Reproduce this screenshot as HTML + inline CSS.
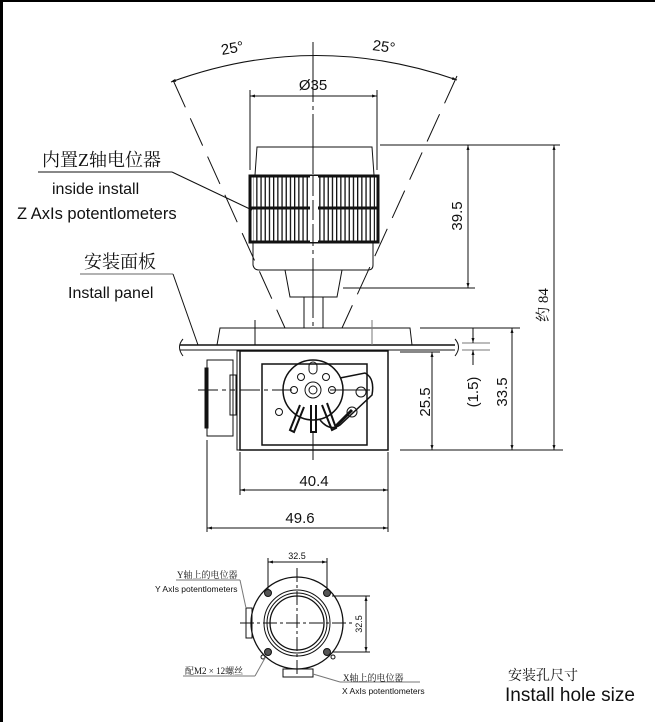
<!DOCTYPE html>
<html><head><meta charset="utf-8"><style>
html,body{margin:0;padding:0;background:#fff}
svg{display:block}
.t{font-family:"Liberation Sans",Arial,sans-serif;fill:#111}
.c{font-family:"Liberation Serif","Noto Serif CJK SC",serif;fill:#111}
</style></head><body>
<svg width="655" height="722" viewBox="0 0 655 722" xmlns="http://www.w3.org/2000/svg">
<defs>
<marker id="a" viewBox="0 0 10 10" refX="10" refY="5" markerWidth="7" markerHeight="5" orient="auto-start-reverse"><path d="M0,2 L10,5 L0,8z" fill="#111"/></marker>
<pattern id="rib" x="0" y="0" width="4.2" height="10" patternUnits="userSpaceOnUse"><rect width="1.3" height="10" fill="#111"/></pattern>
</defs>
<rect x="0" y="0" width="655" height="2" fill="#000"/>
<rect x="0" y="0" width="3" height="722" fill="#000"/>

<g stroke="#111" fill="none" stroke-width="1">
<path d="M171,82 Q313,30 457,80" marker-start="url(#a)" marker-end="url(#a)"/>
<line x1="313" y1="42" x2="313" y2="330" stroke-dasharray="60,4,4,4"/>
<line x1="173" y1="80" x2="285" y2="328" stroke-dasharray="30,12"/>
<line x1="457" y1="76" x2="342" y2="328" stroke-dasharray="30,12"/>
<line x1="250" y1="90" x2="250" y2="170"/>
<line x1="377" y1="90" x2="377" y2="170"/>
<line x1="250" y1="96" x2="377" y2="96" marker-start="url(#a)" marker-end="url(#a)"/>
<path d="M255,175 L257,147 L372,147 L374,175"/>
<path d="M253,242 L253,265 Q254,270 259,270 L368,270 Q373,270 373,265 L373,242"/>
<path d="M285,270 L290,297 L337,297 L342,270"/>
<line x1="304" y1="297" x2="304" y2="328"/>
<line x1="323" y1="297" x2="323" y2="328"/>
</g>
<rect x="253" y="175" width="122" height="67" fill="url(#rib)"/>
<path d="M250,176 L378,176 L378,242 L250,242 Z" fill="none" stroke="#111" stroke-width="3"/>
<line x1="250" y1="208" x2="378" y2="208" stroke="#111" stroke-width="3"/>
<rect x="310" y="176" width="8" height="66" fill="#fff"/>
<line x1="313" y1="176" x2="313" y2="242" stroke="#111" stroke-dasharray="20,4"/>

<g stroke="#111" fill="none" stroke-width="1">
<line x1="380" y1="145" x2="560" y2="145"/>
<line x1="343" y1="288" x2="475" y2="288"/>
<line x1="468" y1="145" x2="468" y2="288" marker-start="url(#a)" marker-end="url(#a)"/>
<line x1="554" y1="145" x2="554" y2="450" marker-start="url(#a)" marker-end="url(#a)"/>
<path d="M217,345 L220,328 L410,328 L412,345"/>
<line x1="180" y1="345" x2="455" y2="345" stroke-width="1.5"/>
<line x1="180" y1="350" x2="455" y2="350"/>
<path d="M183,339 Q176,347 183,356"/>
<path d="M455,339 Q462,347 455,356"/>
<line x1="255" y1="320" x2="255" y2="345"/>
<line x1="372" y1="320" x2="372" y2="345" stroke="#777"/>
<rect x="240" y="351" width="148" height="99" stroke-width="1.5"/>
<rect x="262" y="364" width="105" height="81" stroke-width="1.5"/>
<rect x="237" y="351" width="3" height="99"/>
<rect x="207" y="360" width="26" height="76"/>
<rect x="205" y="368" width="3" height="60" fill="#111"/>
<rect x="230" y="375" width="6" height="40"/>
<line x1="198" y1="390" x2="235" y2="390" stroke-dasharray="20,4,4,4"/>
<circle cx="313" cy="390" r="30" stroke-width="1.5"/>
<circle cx="313" cy="390" r="8"/>
<circle cx="313" cy="390" r="4"/>
<circle cx="301" cy="377" r="3.5"/><circle cx="326" cy="377" r="3.5"/>
<circle cx="294" cy="390" r="3.5"/><circle cx="332" cy="390" r="3.5"/>
<circle cx="279" cy="412" r="3.5"/>
<rect x="309" y="362" width="8" height="12" rx="4"/>
<path d="M340,378 L365,373 Q375,378 372,395 L340,425 Q330,432 320,420" stroke-width="1.5"/>
<circle cx="361" cy="392" r="5"/>
<circle cx="352" cy="412" r="5"/>
<line x1="330" y1="390" x2="370" y2="390"/>
<line x1="240" y1="390" x2="292" y2="390" stroke-dasharray="20,4,4,4"/>
<path d="M300,405 L290,430 L294,432 L304,407" stroke-width="2"/>
<path d="M311,405 L311,432 L316,432 L316,405" stroke-width="2"/>
<path d="M322,405 L332,430 L336,428 L327,403" stroke-width="2"/>
<path d="M336,426 L352,410" stroke-width="3"/>
<line x1="313" y1="432" x2="313" y2="460"/>
<line x1="400" y1="352" x2="440" y2="352"/>
<line x1="400" y1="450" x2="563" y2="450"/>
<line x1="432" y1="352" x2="432" y2="450" marker-start="url(#a)" marker-end="url(#a)"/>
<line x1="420" y1="328" x2="520" y2="328"/>
<line x1="462" y1="343" x2="490" y2="343" stroke="#777"/>
<line x1="462" y1="350" x2="490" y2="350" stroke="#777"/>
<line x1="473" y1="328" x2="473" y2="343" marker-end="url(#a)"/>
<line x1="473" y1="365" x2="473" y2="350" marker-end="url(#a)"/>
<line x1="512" y1="328" x2="512" y2="450" marker-start="url(#a)" marker-end="url(#a)"/>
<line x1="240" y1="452" x2="240" y2="495"/>
<line x1="388" y1="452" x2="388" y2="532"/>
<line x1="207" y1="440" x2="207" y2="532"/>
<line x1="240" y1="490" x2="388" y2="490" marker-start="url(#a)" marker-end="url(#a)"/>
<line x1="207" y1="528" x2="388" y2="528" marker-start="url(#a)" marker-end="url(#a)"/>
<line x1="38" y1="172" x2="172" y2="172"/>
<line x1="172" y1="172" x2="252" y2="210"/>
<line x1="80" y1="274" x2="173" y2="274" stroke="#666"/>
<line x1="173" y1="274" x2="198" y2="345"/>
</g>

<text class="t" x="313" y="90" font-size="15" text-anchor="middle">Ø35</text>
<text class="t" x="222" y="55" font-size="15" transform="rotate(-10 222 55)">25°</text>
<text class="t" x="372" y="50" font-size="15" transform="rotate(8 372 50)">25°</text>
<text class="t" font-size="15" transform="translate(462,216) rotate(-90)" text-anchor="middle">39.5</text>
<text class="c" font-size="15" transform="translate(548,305) rotate(-90)" text-anchor="middle">约 84</text>
<text class="t" font-size="15" transform="translate(430,402) rotate(-90)" text-anchor="middle">25.5</text>
<text class="t" font-size="15" transform="translate(478,392) rotate(-90)" text-anchor="middle">(1.5)</text>
<text class="t" font-size="15" transform="translate(507,392) rotate(-90)" text-anchor="middle">33.5</text>
<text class="t" x="314" y="486" font-size="15" text-anchor="middle">40.4</text>
<text class="t" x="300" y="523" font-size="15" text-anchor="middle">49.6</text>

<text class="c" x="42" y="166" font-size="18">内置Z轴电位器</text>
<text class="t" x="52" y="194" font-size="16">inside install</text>
<text class="t" x="17" y="219" font-size="16.5">Z AxIs potentlometers</text>
<text class="c" x="84" y="268" font-size="18">安装面板</text>
<text class="t" x="68" y="298" font-size="16">Install panel</text>

<g stroke="#111" fill="none" stroke-width="1">
<circle cx="297" cy="623" r="46" stroke-width="1.3"/>
<circle cx="297" cy="623" r="33"/>
<circle cx="297" cy="623" r="30"/>
<circle cx="297" cy="623" r="27" stroke-width="1.3"/>
<circle cx="268" cy="593" r="3.5" fill="#555"/>
<circle cx="327" cy="593" r="3.5" fill="#555"/>
<circle cx="268" cy="652" r="3.5" fill="#555"/>
<circle cx="327" cy="652" r="3.5" fill="#555"/>
<circle cx="263" cy="657" r="2"/>
<circle cx="333" cy="657" r="2"/>
<line x1="240" y1="623" x2="355" y2="623" stroke-dasharray="14,3,3,3"/>
<line x1="297" y1="568" x2="297" y2="676" stroke-dasharray="14,3,3,3"/>
<rect x="246" y="608" width="6" height="30"/>
<rect x="283" y="669" width="30" height="8"/>
<line x1="268" y1="558" x2="268" y2="590"/>
<line x1="327" y1="558" x2="327" y2="590"/>
<line x1="268" y1="562" x2="327" y2="562" marker-start="url(#a)" marker-end="url(#a)"/>
<line x1="332" y1="596" x2="370" y2="596"/>
<line x1="332" y1="652" x2="370" y2="652"/>
<line x1="366" y1="596" x2="366" y2="652" marker-start="url(#a)" marker-end="url(#a)"/>
<line x1="176" y1="580" x2="240" y2="580" stroke="#777"/>
<line x1="240" y1="580" x2="246" y2="608" stroke="#777"/>
<line x1="183" y1="676" x2="255" y2="676" stroke="#777"/>
<line x1="255" y1="676" x2="265" y2="658" stroke="#777"/>
<line x1="313" y1="674" x2="340" y2="682" stroke="#777"/>
<line x1="340" y1="682" x2="420" y2="682" stroke="#777"/>
</g>
<text class="t" x="297" y="559" font-size="9" text-anchor="middle">32.5</text>
<text class="t" font-size="9" transform="translate(362,624) rotate(-90)" text-anchor="middle">32.5</text>
<text class="c" x="177" y="578" font-size="9">Y轴上的电位器</text>
<text class="t" x="155" y="592" font-size="8.5">Y AxIs potentlometers</text>
<text class="c" x="185" y="674" font-size="9">配M2 × 12螺丝</text>
<text class="c" x="343" y="681" font-size="9">X轴上的电位器</text>
<text class="t" x="342" y="694" font-size="8.5">X AxIs potentlometers</text>
<text class="c" x="508" y="680" font-size="14">安装孔尺寸</text>
<text class="t" x="505" y="701" font-size="19">Install hole size</text>
</svg>
</body></html>
